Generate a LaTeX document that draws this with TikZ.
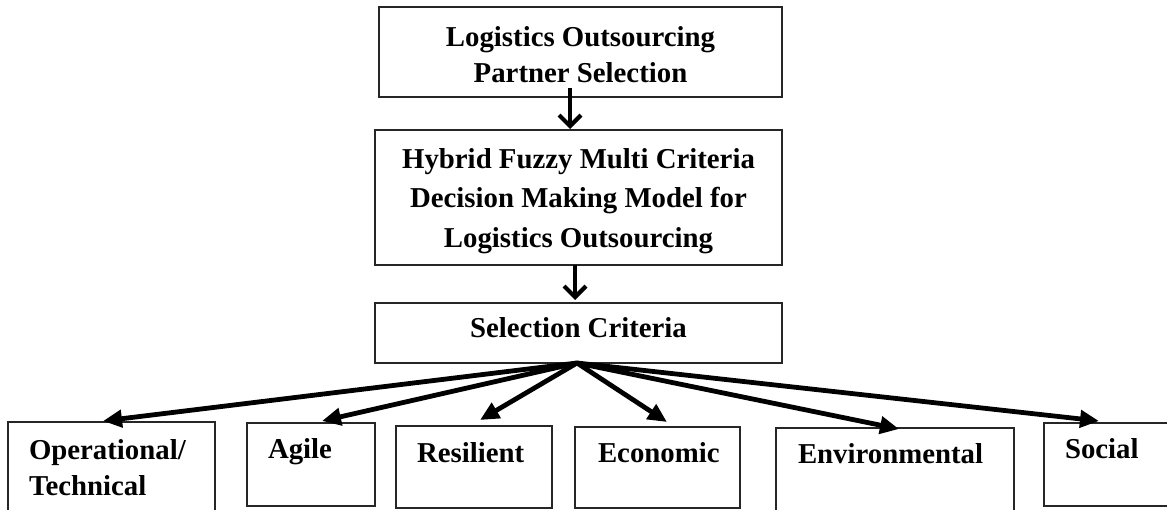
\documentclass[tikz,border=0pt]{standalone}
\usepackage{fontspec}
\setmainfont{Liberation Serif}
\usetikzlibrary{arrows.meta}
\begin{document}
\begin{tikzpicture}[x=1pt,y=-1pt,
  box/.style={draw=black!85,line width=1.6pt,inner sep=0pt,outer sep=0pt},
  txt/.style={inner sep=0pt,outer sep=0pt,font=\bfseries\fontsize{28.8}{36}\selectfont},
  varrow/.style={line width=4.2pt,-{Straight Barb[length=11pt,width=22pt]}},
  darrow/.style={line width=4.8pt,-{Triangle[length=19pt,width=17pt]}}
]
\useasboundingbox (0,0) rectangle (1167,510);
% main boxes
\node[box,minimum width=403pt,minimum height=90pt,anchor=north west] (b1) at (379,7) {};
\node[box,minimum width=407pt,minimum height=135pt,anchor=north west] (b2) at (375,130) {};
\node[box,minimum width=407pt,minimum height=60pt,anchor=north west] (b3) at (375,303) {};
\node[txt,align=center] (t1) at (580.5,54.5) {Logistics Outsourcing\\Partner Selection};
\node[txt,align=center,font=\bfseries\fontsize{28.8}{39.5}\selectfont] (t2) at (578.5,201) {Hybrid Fuzzy Multi Criteria\\Decision Making Model for\\Logistics Outsourcing};
\node[txt,anchor=base] (t3) at (578.5,338) {Selection Criteria};
% bottom boxes
\node[box,minimum width=207pt,minimum height=92pt,anchor=north west] (op) at (8,422) {};
\node[box,minimum width=128pt,minimum height=83pt,anchor=north west] (ag) at (247,423) {};
\node[box,minimum width=156pt,minimum height=82pt,anchor=north west] (re) at (396,426) {};
\node[box,minimum width=165pt,minimum height=81pt,anchor=north west] (ec) at (575,427) {};
\node[box,minimum width=238pt,minimum height=86pt,anchor=north west] (en) at (776,428) {};
\node[box,minimum width=130pt,minimum height=83pt,anchor=north west] (so) at (1044,423) {};
\node[txt,align=left,anchor=west] (top) at (29,468) {Operational/\\Technical};
\node[txt,anchor=base west] (tag) at (268,458) {Agile};
\node[txt,anchor=base west] (tre) at (417,462) {Resilient};
\node[txt,anchor=base west] (tec) at (598,462) {Economic};
\node[txt,anchor=base west] (ten) at (798,463) {Environmental};
\node[txt,anchor=base west] (tso) at (1065,458) {Social};
% connectors
\draw[varrow] ([xshift=-10.5pt,yshift=9pt]b1.south) -- ([xshift=-8.5pt,yshift=1pt]b2.north);
\draw[varrow] ([xshift=-3.5pt]b2.south) -- ([xshift=-3.5pt,yshift=3pt]b3.north);
\coordinate (o) at ([xshift=-1.5pt]b3.south);
\draw[darrow] (o) -- ([xshift=95pt,yshift=1pt]op.north west);
\draw[darrow] (o) -- ([xshift=75pt,yshift=2pt]ag.north west);
\draw[darrow] (o) -- ([xshift=84pt,yshift=6pt]re.north west);
\draw[darrow] (o) -- ([xshift=92pt,yshift=5pt]ec.north west);
\draw[darrow] (o) -- ([xshift=123pt,yshift=-1pt]en.north west);
\draw[darrow] (o) -- ([xshift=55pt,yshift=2pt]so.north west);
\end{tikzpicture}
\end{document}
